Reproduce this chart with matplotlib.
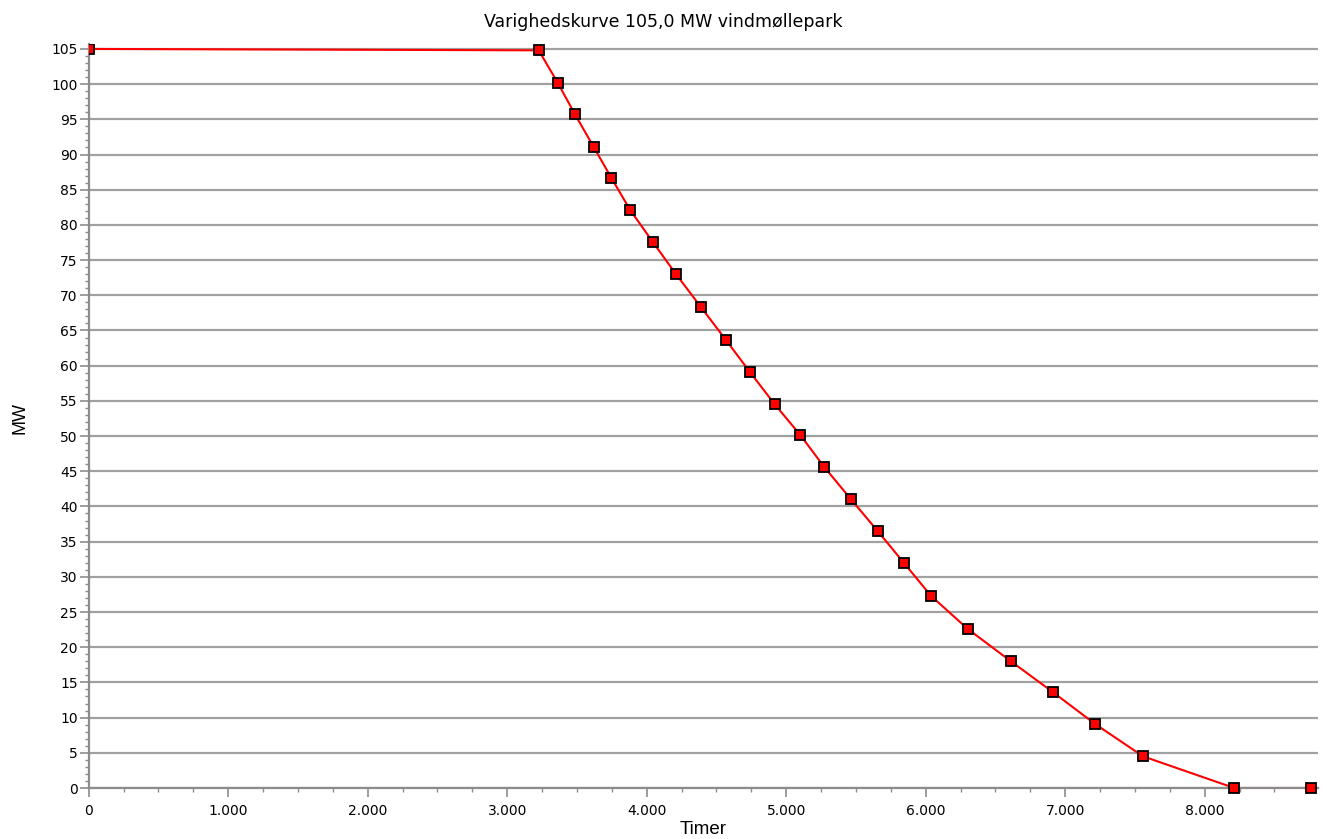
import matplotlib
matplotlib.use("Agg")
import matplotlib.pyplot as plt
from matplotlib.ticker import MultipleLocator, FuncFormatter

# varighedskurve
timer = [0, 3226, 3362, 3486, 3622, 3746, 3882, 4043, 4210, 4386, 4566, 4740,
         4918, 5099, 5273, 5465, 5656, 5847, 6038, 6301, 6611, 6913, 7214, 7558,
         8212, 8760]
mw = [105, 104.8, 100.2, 95.7, 91.0, 86.7, 82.1, 77.6, 73.0, 68.4, 63.7, 59.1,
      54.5, 50.2, 45.6, 41.0, 36.5, 31.9, 27.3, 22.6, 18.0, 13.6, 9.1, 4.5,
      0, 0]

titel = "Varighedskurve 105,0 MW vindmøllepark"

W, H = 1327, 839
fig = plt.figure(figsize=(W/100, H/100), dpi=100)
ax = fig.add_axes([88.7/W, 1-788/H, (1317.7-88.7)/W, (788-44)/H])

mk = dict(ls="none", marker="s", ms=7, mfc="red", mec="black", mew=1.3, zorder=4)
ax.plot(timer, mw, color="red", lw=1.5, zorder=2)
# første punkt ligger på y-aksen og klippes halvt, resten vises helt
ax.plot(timer[:1], mw[:1], clip_on=True, **mk)
ax.plot(timer[1:], mw[1:], clip_on=False, **mk)

ax.set_xlim(0, 8810)
ax.set_ylim(0, 105.7)

ax.xaxis.set_major_locator(MultipleLocator(1000))
ax.xaxis.set_minor_locator(MultipleLocator(250))
ax.yaxis.set_major_locator(MultipleLocator(5))
ax.yaxis.set_minor_locator(MultipleLocator(1))
ax.xaxis.set_major_formatter(FuncFormatter(lambda v, p: f"{int(v):,}".replace(",", ".")))

ax.grid(axis="y", which="major", color="#555555", alpha=0.55, lw=1.6)
for l in ax.get_ygridlines():
    l.set_zorder(3)

for s in ["top", "right"]:
    ax.spines[s].set_visible(False)
for s in ["left", "bottom"]:
    ax.spines[s].set_color("#8c8c8c")
    ax.spines[s].set_linewidth(1.6)

ax.tick_params(which="major", length=6.5, width=1.2, color="#8c8c8c",
               labelsize=10)
ax.tick_params(axis="x", which="major", pad=5)
ax.tick_params(axis="y", which="major", pad=1.5)
ax.tick_params(which="minor", length=3, width=1.0, color="#8c8c8c")

fig.text(0.5, 1-22/H, titel, ha="center", va="center", fontsize=12.5)
fig.text(703/W, 1/H, "Timer", ha="center", va="bottom", fontsize=13.5,
         family="Liberation Sans")
fig.text(19.5/W, 1-418/H, "MW", ha="center", va="center", rotation=90,
         fontsize=13, family="Liberation Sans")

fig.savefig("out.png", dpi=100)
